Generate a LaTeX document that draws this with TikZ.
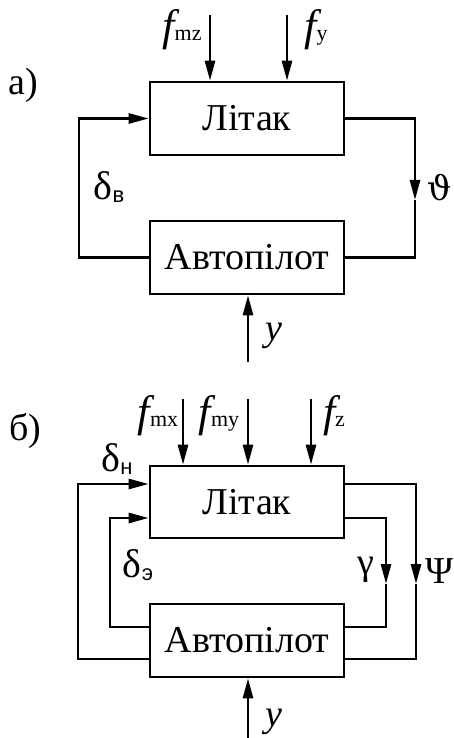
\documentclass[tikz,border=0pt]{standalone}
\usepackage{fontspec}
\setmainfont{Liberation Serif}
\newfontfamily\subsans{Liberation Sans}
\newfontfamily\thetafont{DejaVu Serif}
\usetikzlibrary{arrows.meta}
\begin{document}
\begin{tikzpicture}[x=1pt,y=-1pt,line width=2.6pt,
  block/.style={draw,minimum width=194pt,minimum height=73pt,inner sep=0pt,font=\fontsize{38}{44}\selectfont},
  arr/.style={-{Triangle[length=20pt,width=10pt]}},
  lbl/.style={inner sep=0pt,font=\fontsize{38}{44}\selectfont},
  fsub/.style={inner sep=0pt}]
\useasboundingbox (0,0) rectangle (454,738);
\newcommand{\fsym}[1]{{\fontsize{44}{48}\selectfont\itshape f}{\fontsize{22}{26}\selectfont #1}}
\newcommand{\dsym}[1]{{\fontsize{40}{44}\selectfont δ}\raisebox{-3pt}{\fontsize{22}{26}\selectfont\subsans #1}}
% ---------- a)
\node[lbl] (ta) at (23,85) {а)};
\node[block] (L1) at (247,118.5) {Літак};
\node[block] (A1) at (247,257.5) {Автопілот};
\coordinate (i1) at (210,15);
\coordinate (i2) at (287,15);
\draw[arr] (i1) -- (i1 |- L1.north);
\draw[arr] (i2) -- (i2 |- L1.north);
\node[fsub] (f1) at (182,30) {\fsym{mz}};
\node[fsub] (f2) at (316,30) {\fsym{y}};
\coordinate (la) at (79,188);
\draw[arr] (A1.west) -| (la) |- (L1.west);
\coordinate (ra) at (415,200);
\draw[arr] (L1.east) -| (ra);
\draw (ra) |- (A1.east);
\node[fsub] (db) at (109,187) {\dsym{в}};
\node[lbl] (th) at (440,188) {\thetafont\fontsize{34}{40}\selectfont ϑ};
\coordinate (ya) at (248,362);
\draw[arr] (ya) -- (ya |- A1.south);
\node[lbl] (yl1) at (274,336) {\itshape y};
% ---------- b)
\node[lbl] (tb) at (25,431) {б)};
\node[block,minimum height=72pt] (L2) at (247,502) {Літак};
\node[block] (A2) at (247,640.5) {Автопілот};
\coordinate (j1) at (183,399);
\coordinate (j2) at (248,399);
\coordinate (j3) at (311,399);
\draw[arr] (j1) -- (j1 |- L2.north);
\draw[arr] (j2) -- (j2 |- L2.north);
\draw[arr] (j3) -- (j3 |- L2.north);
\node[fsub] (g1) at (158,416) {\fsym{mx}};
\node[fsub] (g2) at (219,416) {\fsym{my}};
\node[fsub] (g3) at (334,416) {\fsym{z}};
\coordinate (lo) at (78,570);
\coordinate (li) at (110,570);
\draw[arr] ([yshift=-18.5pt]A2.west) -| (lo) |- ([yshift=18pt]L2.west);
\draw[arr] ([yshift=13.5pt]A2.west) -| (li) |- ([yshift=-16pt]L2.west);
\coordinate (ri) at (386,584);
\coordinate (ro) at (416,584);
\draw[arr] ([yshift=-16pt]L2.east) -| (ri);
\draw (ri) |- ([yshift=13.5pt]A2.east);
\draw[arr] ([yshift=18pt]L2.east) -| (ro);
\draw (ro) |- ([yshift=-18.5pt]A2.east);
\node[fsub] (dn) at (117,459) {\dsym{н}};
\node[fsub] (de) at (138,565) {\dsym{э}};
\node[lbl] (ga) at (366,570) {γ};
\node[lbl] (ps) at (440,571) {Ψ};
\coordinate (yb) at (248,738);
\draw[arr] (yb) -- (yb |- A2.south);
\node[lbl] (yl2) at (274,722) {\itshape y};
\end{tikzpicture}
\end{document}
